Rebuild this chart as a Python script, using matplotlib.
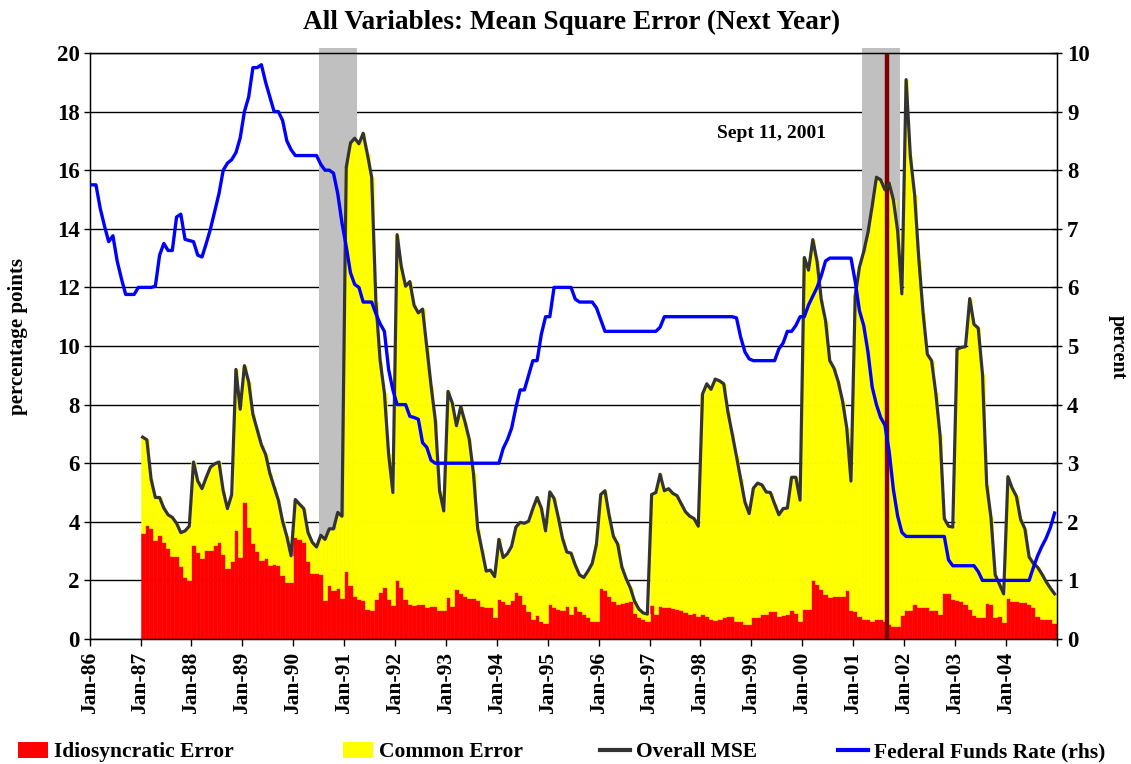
import numpy as np
import matplotlib
matplotlib.use('Agg')
import matplotlib.pyplot as plt
from matplotlib.patches import Patch
from matplotlib.lines import Line2D

plt.rcParams['font.family'] = 'Liberation Serif'
plt.rcParams['font.weight'] = 'bold'

# monthly data, Jan-86 .. Dec-04 (fed funds) and Jan-87 .. Dec-04 (errors)
tick_labels = ['Jan-86', 'Jan-87', 'Jan-88', 'Jan-89', 'Jan-90', 'Jan-91', 'Jan-92',
               'Jan-93', 'Jan-94', 'Jan-95', 'Jan-96', 'Jan-97', 'Jan-98', 'Jan-99',
               'Jan-00', 'Jan-01', 'Jan-02', 'Jan-03', 'Jan-04']

fed_funds = [
    7.75, 7.75, 7.35, 7.05, 6.78, 6.88, 6.45, 6.15, 5.88, 5.88, 5.88, 6.0,
    6.0, 6.0, 6.0, 6.02, 6.55, 6.75, 6.63, 6.63, 7.2, 7.25, 6.82, 6.8,
    6.78, 6.55, 6.52, 6.75, 7.0, 7.3, 7.6, 8.0, 8.12, 8.18, 8.3, 8.55,
    9.0, 9.25, 9.75, 9.75, 9.8, 9.5, 9.25, 9.0, 9.0, 8.85, 8.5, 8.35,
    8.25, 8.25, 8.25, 8.25, 8.25, 8.25, 8.1, 8.0, 8.0, 7.95, 7.6, 7.1,
    6.7, 6.25, 6.05, 6.0, 5.75, 5.75, 5.75, 5.55, 5.38, 5.25, 4.6, 4.25,
    4.0, 4.0, 4.0, 3.8, 3.78, 3.75, 3.35, 3.27, 3.05, 3.0, 3.0, 3.0,
    3.0, 3.0, 3.0, 3.0, 3.0, 3.0, 3.0, 3.0, 3.0, 3.0, 3.0, 3.0,
    3.0, 3.25, 3.4, 3.6, 3.95, 4.25, 4.25, 4.5, 4.75, 4.75, 5.2, 5.5,
    5.5, 6.0, 6.0, 6.0, 6.0, 6.0, 5.8, 5.75, 5.75, 5.75, 5.75, 5.65,
    5.45, 5.25, 5.25, 5.25, 5.25, 5.25, 5.25, 5.25, 5.25, 5.25, 5.25, 5.25,
    5.25, 5.25, 5.32, 5.5, 5.5, 5.5, 5.5, 5.5, 5.5, 5.5, 5.5, 5.5,
    5.5, 5.5, 5.5, 5.5, 5.5, 5.5, 5.5, 5.5, 5.48, 5.15, 4.9, 4.78,
    4.75, 4.75, 4.75, 4.75, 4.75, 4.75, 4.95, 5.05, 5.25, 5.25, 5.35, 5.5,
    5.5, 5.7, 5.85, 6.0, 6.2, 6.45, 6.5, 6.5, 6.5, 6.5, 6.5, 6.5,
    6.1, 5.6, 5.35, 4.9, 4.3, 4.0, 3.78, 3.65, 3.2, 2.55, 2.1, 1.82,
    1.75, 1.75, 1.75, 1.75, 1.75, 1.75, 1.75, 1.75, 1.75, 1.75, 1.35, 1.25,
    1.25, 1.25, 1.25, 1.25, 1.25, 1.15, 1.0, 1.0, 1.0, 1.0, 1.0, 1.0,
    1.0, 1.0, 1.0, 1.0, 1.0, 1.0, 1.22, 1.42, 1.58, 1.72, 1.9, 2.15,
]

overall_mse = [
    6.89, 6.8, 5.45, 4.83, 4.83, 4.47, 4.24, 4.15, 3.95, 3.63, 3.69, 3.85,
    6.04, 5.39, 5.13, 5.52, 5.87, 5.98, 6.04, 5.06, 4.45, 4.93, 9.2, 7.84,
    9.33, 8.78, 7.67, 7.15, 6.63, 6.3, 5.65, 5.19, 4.74, 4.02, 3.5, 2.84,
    4.76, 4.6, 4.45, 3.63, 3.3, 3.14, 3.54, 3.4, 3.76, 3.76, 4.32, 4.19,
    16.09, 16.93, 17.09, 16.9, 17.26, 16.54, 15.76, 11.5, 9.5, 8.4, 6.3, 5.0,
    13.8, 12.7, 12.04, 12.2, 11.39, 11.13, 11.26, 9.95, 8.65, 7.48, 5.06, 4.37,
    8.45, 8.06, 7.28, 7.93, 7.41, 6.82, 5.65, 3.76, 3.04, 2.32, 2.35, 2.13,
    3.4, 2.78, 2.91, 3.17, 3.82, 3.98, 3.95, 4.02, 4.45, 4.83, 4.47, 3.69,
    5.02, 4.8, 4.15, 3.43, 2.97, 2.93, 2.52, 2.19, 2.1, 2.32, 2.58, 3.24,
    4.93, 5.06, 4.21, 3.5, 3.24, 2.45, 2.06, 1.74, 1.28, 1.02, 0.89, 0.85,
    4.93, 5.0, 5.62, 5.06, 5.13, 4.97, 4.89, 4.61, 4.34, 4.19, 4.11, 3.85,
    8.36, 8.71, 8.52, 8.87, 8.81, 8.71, 7.74, 7.0, 6.24, 5.45, 4.67, 4.28,
    5.15, 5.32, 5.26, 5.02, 5.0, 4.61, 4.24, 4.45, 4.47, 5.52, 5.52, 4.74,
    13.02, 12.59, 13.63, 12.89, 11.58, 10.87, 9.5, 9.24, 8.78, 8.13, 7.21, 5.39,
    11.72, 12.69, 13.22, 13.87, 14.78, 15.76, 15.67, 15.33, 15.56, 14.98, 13.93, 11.78,
    19.09, 16.48, 15.17, 12.95, 11.13, 9.72, 9.5, 8.39, 6.95, 4.11, 3.85, 3.82,
    9.89, 9.95, 9.98, 11.62, 10.74, 10.61, 9.04, 5.26, 4.15, 2.19, 1.87, 1.54,
    5.54, 5.15, 4.87, 4.08, 3.76, 2.8, 2.58, 2.45, 2.22, 1.96, 1.74, 1.54,
]

idiosyncratic = [
    3.63, 3.89, 3.8, 3.39, 3.56, 3.3, 3.1, 2.84, 2.84, 2.49, 2.1, 2.02,
    3.21, 2.97, 2.75, 3.04, 3.04, 3.2, 3.3, 2.91, 2.43, 2.65, 3.72, 2.8,
    4.67, 3.82, 3.26, 3.0, 2.71, 2.78, 2.54, 2.57, 2.52, 2.17, 1.93, 1.93,
    3.47, 3.41, 3.3, 2.65, 2.26, 2.26, 2.22, 1.34, 1.84, 1.67, 1.74, 1.41,
    2.31, 1.84, 1.47, 1.38, 1.32, 1.02, 0.99, 1.37, 1.6, 1.76, 1.37, 1.17,
    2.02, 1.76, 1.37, 1.19, 1.15, 1.19, 1.19, 1.08, 1.13, 1.13, 0.98, 0.98,
    1.43, 1.11, 1.71, 1.58, 1.47, 1.41, 1.41, 1.32, 1.11, 1.08, 1.08, 0.76,
    1.38, 1.28, 1.21, 1.32, 1.6, 1.51, 1.21, 0.95, 0.69, 0.82, 0.63, 0.53,
    1.19, 1.08, 1.02, 0.98, 1.11, 0.85, 1.12, 0.95, 0.85, 0.76, 0.63, 0.63,
    1.74, 1.67, 1.47, 1.28, 1.19, 1.24, 1.25, 1.28, 0.89, 0.76, 0.69, 0.63,
    1.17, 0.86, 1.12, 1.08, 1.08, 1.06, 1.02, 0.98, 0.93, 0.86, 0.89, 0.8,
    0.85, 0.78, 0.67, 0.65, 0.69, 0.76, 0.8, 0.78, 0.63, 0.63, 0.5, 0.5,
    0.76, 0.76, 0.85, 0.85, 0.95, 0.95, 0.8, 0.82, 0.85, 0.98, 0.89, 0.63,
    1.02, 1.02, 2.02, 1.89, 1.71, 1.54, 1.45, 1.47, 1.47, 1.47, 1.67, 0.98,
    0.95, 0.8, 0.67, 0.69, 0.63, 0.69, 0.69, 0.63, 0.5, 0.43, 0.46, 0.82,
    0.98, 0.98, 1.19, 1.08, 1.08, 1.08, 0.98, 0.98, 0.85, 1.58, 1.58, 1.38,
    1.34, 1.28, 1.19, 1.02, 0.82, 0.76, 0.76, 1.24, 1.19, 0.76, 0.8, 0.59,
    1.41, 1.28, 1.28, 1.25, 1.25, 1.19, 1.08, 0.8, 0.69, 0.69, 0.69, 0.53,
]

# recessions (month index from Jan-86) and Sept 11
recessions = [(54, 63), (182, 191)]
sept11 = 188

ff = np.array(fed_funds)
mse = np.array(overall_mse)
idio = np.array(idiosyncratic)
common = mse - idio
m_all = np.arange(len(ff))
m_err = np.arange(12, 12 + len(mse))

fig = plt.figure(figsize=(11.31, 7.64), dpi=100)
ax = fig.add_axes([89.6 / 1131, 1 - 639 / 764, (1056.7 - 89.6) / 1131, (639 - 53) / 764])

for a, b in recessions:
    ax.axvspan(a, b, ymin=0, ymax=1.008, color='#C0C0C0', lw=0, zorder=1, clip_on=False)

ax.bar(m_err, idio, width=1.0, align='edge', color='#FF0000', edgecolor='#FF0000', lw=0.4, zorder=2)
ax.bar(m_err, common, bottom=idio, width=1.0, align='edge', color='#FFFF00', edgecolor='#FFFF00',
       lw=0.4, zorder=2)
ax.axvline(sept11, color='#800000', lw=3.2, zorder=3)
ax.plot(m_err + 0.5, mse, color='#333333', lw=2.3, zorder=4)

ax.set_xlim(0, 228)
ax.set_ylim(0, 20)
ax.set_yticks(np.arange(0, 21, 2))
ax.yaxis.grid(True, color='black', lw=1.0, zorder=0)
ax.set_axisbelow(True)
ax.set_xticks(np.arange(0, 229, 12))
ax.set_xticklabels(tick_labels + [''], rotation=90, fontsize=15.5, fontweight='bold')
ax.tick_params(axis='x', direction='out', length=5, width=1, pad=4)
ax.tick_params(axis='y', direction='out', length=4, width=1, labelsize=16.5, pad=3)
for lab in ax.get_yticklabels():
    lab.set_fontweight('bold')
for s in ax.spines.values():
    s.set_color('black')
    s.set_linewidth(1.0)

ax2 = ax.twinx()
ax2.plot(m_all + 0.5, ff, color='#0000FF', lw=2.4, zorder=5)
ax2.set_ylim(0, 10)
ax2.set_yticks(np.arange(0, 11, 1))
ax2.tick_params(axis='y', direction='inout', length=7, width=1, labelsize=16.5, pad=4)
for lab in ax2.get_yticklabels():
    lab.set_fontweight('bold')

ax.text(160.8, 17.25, 'Sept 11, 2001', ha='center', va='center', fontsize=14, fontweight='bold', zorder=6)

fig.text(0.505, 0.971, 'All Variables: Mean Square Error (Next Year)', ha='center', va='center',
         fontsize=19.6, fontweight='bold')
fig.text(0.016, 0.56, 'percentage points', rotation=90, ha='center', va='center',
         fontsize=15, fontweight='bold')
fig.text(0.9885, 0.545, 'percent', rotation=270, ha='center', va='center',
         fontsize=14.5, fontweight='bold')

# legend entries placed one by one, as in the reference
handles = [Patch(facecolor='#FF0000', edgecolor='none'),
           Patch(facecolor='#FFFF00', edgecolor='none'),
           Line2D([], [], color='#333333', lw=3),
           Line2D([], [], color='#0000FF', lw=3)]
labels = ['Idiosyncratic Error', 'Common Error', 'Overall MSE', 'Federal Funds Rate (rhs)']
starts = [18, 343, 600, 838]
for h, lab, x0 in zip(handles, labels, starts):
    fig.legend([h], [lab], loc='center left', bbox_to_anchor=(x0 / 1131, 0.0157), frameon=False,
               prop={'size': 15.5, 'weight': 'bold'}, handlelength=1.4, handleheight=0.8,
               handletextpad=0.25, borderaxespad=0, borderpad=0)

fig.savefig('out.png', dpi=100)
